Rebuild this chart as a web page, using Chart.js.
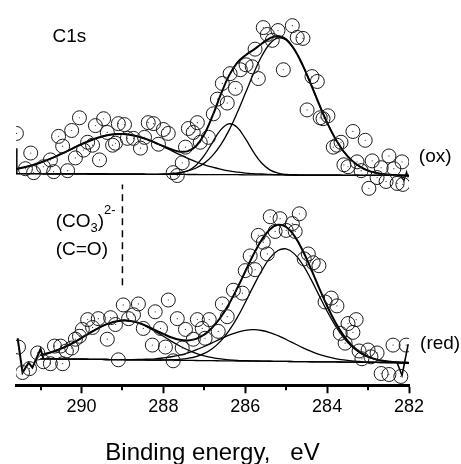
<!DOCTYPE html>
<html>
<head>
<meta charset="utf-8">
<script src="https://cdn.jsdelivr.net/npm/chart.js@4.4.1/dist/chart.umd.min.js"></script>
<style>
  html, body { margin: 0; padding: 0; background: #fff; }
  #wrap { width: 461px; height: 464px; }
</style>
</head>
<body>
<div id="wrap"><canvas id="xps"></canvas></div>
<script>
// C1s spectra, oxidised (top) and reduced (bottom), intensities in a.u. (offset stacked)

// measured points
const oxEnergy = [291.59, 291.37, 291.24, 291.17, 290.93, 290.76, 290.68, 290.56, 290.46, 290.34,
  290.24, 290.15, 290.05, 289.95, 289.85, 289.73, 289.66, 289.56, 289.46, 289.37,
  289.24, 289.17, 289.10, 288.95, 288.88, 288.73, 288.56, 288.46, 288.37, 288.24,
  288.12, 288.00, 287.88, 287.76, 287.66, 287.54, 287.46, 287.39, 287.27, 287.17,
  287.10, 286.90, 286.78, 286.68, 286.56, 286.44, 286.37, 286.24, 286.12, 285.98,
  285.83, 285.76, 285.68, 285.56, 285.46, 285.34, 285.20, 285.07, 284.85, 284.73,
  284.59, 284.49, 284.37, 284.24, 284.17, 284.10, 283.98, 283.85, 283.76, 283.66,
  283.59, 283.49, 283.37, 283.27, 283.17, 283.07, 282.98, 282.90, 282.78, 282.68,
  282.56, 282.49, 282.37, 282.29, 282.17, 282.15];
const oxIntensity = [257, 221, 237, 217, 223, 230, 218, 254, 244, 219,
  260, 232, 273, 240, 248, 245, 265, 230, 272, 258,
  245, 247, 267, 266, 252, 252, 242, 253, 268, 267,
  246, 261, 257, 217, 214, 227, 243, 262, 258, 268,
  248, 253, 277, 292, 308, 288, 318, 303, 322, 327,
  325, 343, 313, 365, 358, 352, 362, 322, 367, 355,
  354, 281, 315, 310, 273, 272, 275, 243, 245, 248,
  225, 223, 259, 228, 219, 250, 201, 229, 212, 222,
  208, 234, 221, 206, 228, 205];

const redEnergy = [291.54, 291.44, 291.27, 291.07, 290.93, 290.76, 290.66, 290.51, 290.46, 290.37,
  290.24, 290.15, 290.05, 289.98, 289.85, 289.73, 289.59, 289.37, 289.29, 289.17,
  289.10, 288.98, 288.85, 288.73, 288.61, 288.49, 288.27, 288.20, 288.07, 287.95,
  287.88, 287.76, 287.66, 287.54, 287.46, 287.27, 287.17, 287.05, 286.98, 286.88,
  286.66, 286.56, 286.44, 286.29, 286.07, 286.00, 285.88, 285.76, 285.68, 285.56,
  285.46, 285.39, 285.27, 285.15, 285.00, 284.85, 284.78, 284.68, 284.56, 284.46,
  284.34, 284.20, 284.05, 283.90, 283.76, 283.68, 283.56, 283.49, 283.37, 283.29,
  283.22, 283.15, 283.00, 282.93, 282.78, 282.68, 282.49, 282.39, 282.20, 282.07];
const redIntensity = [39, 13, 17, 33, 24, 22, 40, 40, 22, 35,
  38, 47, 50, 57, 67, 59, 68, 47, 69, 62,
  26, 82, 68, 72, 83, 58, 41, 75, 58, 39,
  87, 25, 68, 38, 57, 47, 67, 58, 48, 67,
  55, 83, 70, 97, 94, 117, 132, 118, 153, 146,
  134, 172, 157, 170, 158, 165, 157, 175, 129, 134,
  125, 122, 85, 89, 81, 53, 43, 63, 54, 67,
  35, 27, 36, 29, 33, 12, 11, 41, 9, 41];

// fit curves on a common energy grid
const fitEnergy = [291.6, 291.4, 291.2, 291.0, 290.8, 290.6, 290.4, 290.2, 290.0, 289.8,
  289.6, 289.4, 289.2, 289.0, 288.8, 288.6, 288.4, 288.2, 288.0, 287.8,
  287.6, 287.4, 287.2, 287.0, 286.8, 286.6, 286.4, 286.2, 286.0, 285.8,
  285.6, 285.4, 285.2, 285.0, 284.8, 284.6, 284.4, 284.2, 284.0, 283.8,
  283.6, 283.4, 283.2, 283.0, 282.8, 282.6, 282.4, 282.2, 282.0];

const oxBackground = [216.0, 216.0, 215.9, 215.9, 215.8, 215.8, 215.8, 215.7, 215.7, 215.6,
  215.6, 215.6, 215.5, 215.5, 215.4, 215.4, 215.3, 215.3, 215.3, 215.2,
  215.2, 215.1, 215.1, 215.0, 215.0, 215.0, 214.9, 214.9, 214.8, 214.8,
  214.8, 214.7, 214.7, 214.6, 214.6, 214.5, 214.5, 214.5, 214.4, 214.4,
  214.3, 214.3, 214.3, 214.2, 214.2, 214.1, 214.1, 214.0, 214.0];
const oxPeak1 = [4.6, 6.4, 8.7, 11.4, 14.7, 18.3, 22.2, 26.3, 30.3, 33.9,
  37.0, 39.3, 40.7, 41.0, 40.1, 38.3, 35.6, 32.2, 28.3, 24.3,
  20.2, 16.4, 13.0, 10.0, 7.5, 5.5, 3.9, 2.7, 1.8, 1.2,
  0.8, 0.5, 0.3, 0.2, 0, 0, 0, 0, 0, 0,
  0, 0, 0, 0, 0, 0, 0, 0, 0];
const oxPeak2 = [0, 0, 0, 0, 0, 0, 0, 0, 0, 0,
  0, 0, 0, 0, 0, 0, 0, 0, 0, 0.3,
  1.2, 3.8, 9.5, 19.5, 32.9, 45.6, 51.9, 48.4, 37.1, 23.3,
  12.0, 5.1, 1.8, 0.5, 0, 0, 0, 0, 0, 0,
  0, 0, 0, 0, 0, 0, 0, 0, 0];
const oxPeak3 = [0, 0, 0, 0, 0, 0, 0, 0, 0, 0,
  0, 0, 0, 0, 0, 0, 0, 0, 0.4, 0.9,
  1.8, 3.6, 6.6, 11.7, 19.4, 30.4, 45.0, 62.9, 82.9, 103.0,
  120.9, 133.8, 139.7, 137.7, 128.1, 112.4, 93.1, 72.7, 53.6, 37.3,
  24.5, 15.2, 8.9, 4.9, 2.5, 1.2, 0.6, 0.3, 0.1];
const oxEnvelope = [4.6, 6.4, 8.7, 11.4, 14.7, 18.3, 22.2, 26.3, 30.3, 33.9,
  37.0, 39.3, 40.7, 41.0, 40.1, 38.3, 35.6, 32.2, 28.7, 25.5,
  23.2, 23.8, 29.1, 41.2, 59.8, 81.5, 100.8, 114.0, 121.8, 127.5,
  133.7, 139.4, 141.8, 138.4, 128.1, 112.4, 93.1, 72.7, 53.6, 37.3,
  24.5, 15.2, 8.9, 4.9, 2.5, 1.2, 0.6, 0.3, 0.1];

const redBackground = [null, null, null, 27.0, 26.9, 26.8, 26.7, 26.6, 26.6, 26.5,
  26.4, 26.3, 26.2, 26.1, 26.0, 25.9, 25.8, 25.7, 25.7, 25.6,
  25.5, 25.4, 25.3, 25.2, 25.1, 25.0, 24.9, 24.8, 24.8, 24.7,
  24.6, 24.5, 24.4, 24.3, 24.2, 24.1, 24.0, 23.9, 23.9, 23.8,
  23.7, 23.6, 23.5, 23.4, 23.3, 23.2, 23.1, 23.0, 23.0];
const redPeak1 = [null, null, null, 3.9, 6.0, 8.9, 12.5, 16.8, 21.7, 26.8,
  31.7, 35.8, 38.6, 40.0, 39.5, 37.4, 33.8, 29.3, 24.3, 19.2,
  14.6, 10.6, 7.3, 4.9, 3.1, 1.9, 1.1, 0.6, 0.3, 0.2,
  0.1, 0, 0, 0, 0, 0, 0, 0, 0, 0,
  0, 0, 0, 0, 0, 0, 0, 0, 0];
const redPeak2 = [null, null, null, 0, 0, 0, 0, 0, 0, 0,
  0, 0, 0, 0.1, 0.2, 0.4, 0.8, 1.3, 2.2, 3.5,
  5.3, 7.7, 10.8, 14.4, 18.4, 22.4, 26.2, 29.3, 31.3, 32.0,
  31.3, 29.3, 26.2, 22.4, 18.4, 14.4, 10.8, 7.7, 5.3, 3.5,
  2.2, 1.3, 0.8, 0.4, 0.2, 0.1, 0, 0, 0];
const redPeak3 = [null, null, null, 0, 0, 0, 0, 0, 0, 0,
  0, 0, 0, 0, 0, 0, 0, 0, 0.2, 0.5,
  1.0, 2.1, 4.0, 7.3, 12.5, 20.1, 30.6, 44.0, 59.7, 76.5,
  92.3, 105.2, 113.1, 114.8, 109.9, 99.3, 84.6, 68.1, 51.7, 37.0,
  25.0, 15.9, 9.6, 5.5, 2.9, 1.5, 0.7, 0.3, 0.1];
const redEnvelope = [null, null, null, 3.9, 6.0, 8.9, 12.5, 16.8, 21.7, 26.8,
  31.7, 35.8, 38.6, 40.1, 39.7, 37.8, 34.6, 30.6, 26.7, 23.2,
  20.9, 20.4, 22.1, 26.6, 34.0, 44.4, 57.9, 73.9, 91.3, 108.7,
  123.7, 134.5, 139.3, 137.2, 128.3, 113.7, 95.4, 75.8, 57.0, 40.5,
  27.2, 17.2, 10.4, 5.9, 3.1, 1.6, 0.7, 0.3, 0.1];

// raw trace bits at the ends of the fit range
const oxEdgeEnergy = [291.58, 291.58];
const oxEdgeIntensity = [216, 242];
const oxTailEnergy = [282.2, 282.12, 282.06, 282.02];
const oxTailIntensity = [214, 209, 218, 212];
const redHeadEnergy = [291.56, 291.44, 291.29, 291.2, 291.0, 290.93];
const redHeadIntensity = [48, 13, 23, 18, 37, 27];
const redTailEnergy = [282.29, 282.17, 282.02];
const redTailIntensity = [23, 10, 42];

// carbonate / carbonyl position
const markerEnergy = [289.0, 289.0];
const markerIntensity = [102, 205];

const xTicks = [282, 284, 286, 288, 290];
const FONT = "'Liberation Sans', Arial, Helvetica, sans-serif";

function xy(xs, ys) {
  return xs.map((x, i) => ({ x: x, y: ys[i] }));
}

function onBackground(bg, h) {
  return fitEnergy.map((e, i) => ({ x: e, y: bg[i] === null ? null : bg[i] + h[i] }));
}

// open circle with a tiny dot in the middle
function pointsSet(data) {
  return {
    data, showLine: false, clip: 0,
    pointStyle: 'circle', pointRadius: 7, pointBorderWidth: 1,
    pointBorderColor: '#1a1a1a', pointBackgroundColor: 'rgba(0,0,0,0)'
  };
}
function dotsSet(data) {
  return {
    data, showLine: false, clip: 0,
    pointStyle: 'circle', pointRadius: 0.6, pointBorderWidth: 0,
    pointBackgroundColor: '#333'
  };
}

function curve(data, width) {
  return { data, borderColor: '#000', borderWidth: width || 1.3, pointRadius: 0, tension: 0.4, fill: false, spanGaps: false };
}

const zeros = fitEnergy.map(() => 0);
const oxPoints = xy(oxEnergy, oxIntensity);
const redPoints = xy(redEnergy, redIntensity);

const datasets = [
  pointsSet(oxPoints),
  dotsSet(oxPoints),
  pointsSet(redPoints),
  dotsSet(redPoints),
  curve(onBackground(oxBackground, zeros)),
  curve(onBackground(oxBackground, oxPeak1)),
  curve(onBackground(oxBackground, oxPeak2)),
  curve(onBackground(oxBackground, oxPeak3)),
  curve(onBackground(oxBackground, oxEnvelope), 2),
  curve(onBackground(redBackground, zeros)),
  curve(onBackground(redBackground, redPeak1)),
  curve(onBackground(redBackground, redPeak2)),
  curve(onBackground(redBackground, redPeak3)),
  curve(onBackground(redBackground, redEnvelope), 2),
  Object.assign(curve(xy(oxEdgeEnergy, oxEdgeIntensity), 1.5), { tension: 0 }),
  Object.assign(curve(xy(oxTailEnergy, oxTailIntensity), 1.2), { tension: 0 }),
  Object.assign(curve(xy(redHeadEnergy, redHeadIntensity), 2), { tension: 0 }),
  Object.assign(curve(xy(redTailEnergy, redTailIntensity), 1.6), { tension: 0 }),
  Object.assign(curve(xy(markerEnergy, markerIntensity), 1.5), { tension: 0, borderDash: [7, 5] })
];

// minor ticks and text labels
const decorations = {
  id: 'decorations',
  afterDraw(chart) {
    const ctx = chart.ctx;
    const x = chart.scales.x, y = chart.scales.y;
    const bottom = chart.chartArea.bottom;
    ctx.save();
    ctx.strokeStyle = '#000';
    ctx.lineWidth = 2;
    for (let v = 283; v <= 291; v += 2) {
      const px = Math.round(x.getPixelForValue(v));
      ctx.beginPath();
      ctx.moveTo(px, bottom);
      ctx.lineTo(px, bottom + 5);
      ctx.stroke();
    }
    ctx.fillStyle = '#000';
    ctx.textBaseline = 'middle';
    ctx.textAlign = 'left';
    const big = '19px ' + FONT, small = '13px ' + FONT;
    ctx.font = big;
    ctx.fillText('C1s', x.getPixelForValue(290.71), y.getPixelForValue(356));
    ctx.fillText('(ox)', x.getPixelForValue(281.76), y.getPixelForValue(233));
    ctx.fillText('(red)', x.getPixelForValue(281.73), y.getPixelForValue(42));
    ctx.fillText('(C=O)', x.getPixelForValue(290.63), y.getPixelForValue(138));
    let px = x.getPixelForValue(290.63);
    const py = y.getPixelForValue(167);
    ctx.fillText('(CO', px, py);
    px += ctx.measureText('(CO').width;
    ctx.font = small;
    ctx.fillText('3', px, py + 7);
    px += ctx.measureText('3').width;
    ctx.font = big;
    ctx.fillText(')', px, py);
    px += ctx.measureText(')').width;
    ctx.font = small;
    ctx.fillText('2-', px, py - 11);
    ctx.restore();
  }
};

new Chart(document.getElementById('xps'), {
  type: 'line',
  data: { datasets },
  plugins: [decorations],
  options: {
    responsive: true,
    maintainAspectRatio: false,
    animation: false,
    devicePixelRatio: 1,
    layout: { padding: { left: 16, right: 52, top: 0, bottom: 0 } },
    plugins: { legend: { display: false }, tooltip: { enabled: false } },
    scales: {
      x: {
        type: 'linear',
        reverse: true,
        min: 282,
        max: 291.6,
        border: { display: true, width: 3, color: '#000' },
        grid: {
          drawOnChartArea: false,
          drawTicks: true,
          tickLength: 8,
          tickWidth: 2,
          tickColor: (c) => (c.tick && xTicks.includes(c.tick.value)) ? '#000' : 'rgba(0,0,0,0)'
        },
        ticks: {
          stepSize: 1,
          autoSkip: false,
          maxRotation: 0,
          includeBounds: false,
          padding: 3,
          color: '#000',
          font: { family: FONT, size: 18 },
          callback: (v) => xTicks.includes(v) ? String(v) : ''
        },
        title: {
          display: true,
          text: 'Binding energy,   eV',
          color: '#000',
          font: { family: FONT, size: 24, lineHeight: 0.88 },
          padding: { top: 22, bottom: 0 }
        }
      },
      y: { type: 'linear', display: false, min: 0, max: 385 }
    }
  }
});
</script>
</body>
</html>
